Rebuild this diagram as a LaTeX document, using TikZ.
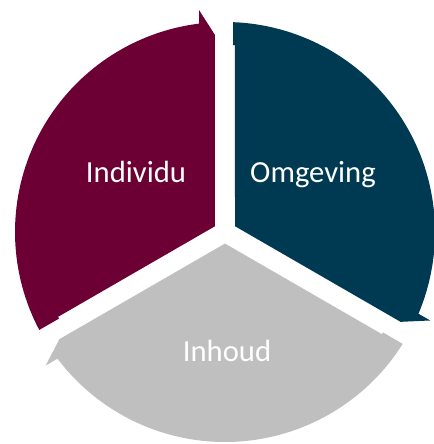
\documentclass[tikz,border=0pt]{standalone}
\usepackage{fontspec}
\setmainfont{Carlito}
\usetikzlibrary{calc}
\definecolor{wijnrood}{RGB}{108,0,52}
\definecolor{petrol}{RGB}{0,58,82}
\definecolor{zilver}{RGB}{191,191,191}
\tikzset{
  label/.style={text=white, font=\fontsize{23}{28}\selectfont, anchor=base}
}
\begin{document}
\begin{tikzpicture}[x=0.75pt,y=0.75pt]
  \clip (-225,-212) rectangle (209,232);
  % three arrows, head at angle \hh, tail 120 degrees further
  \foreach \hh/\col in {90/wijnrood, 330/petrol, 210/zilver}
   {
    \begin{scope}[rotate=\hh]
      \fill[\col] (60:11.55) -- (197,10) -- (222,26) -- (7.1:210)
        arc[start angle=7.1, end angle=117.8, radius=210]
        -- ($(120:187)+(30:8)$) -- ($(120:187)+(30:10)$) -- cycle;
    \end{scope}
   }
  % labels
  \node[label] (individu) at (-89,50) {Individu};
  \node[label] (omgeving) at (88,50) {Omgeving};
  \node[label] (inhoud) at (2,-129) {Inhoud};
\end{tikzpicture}
\end{document}
